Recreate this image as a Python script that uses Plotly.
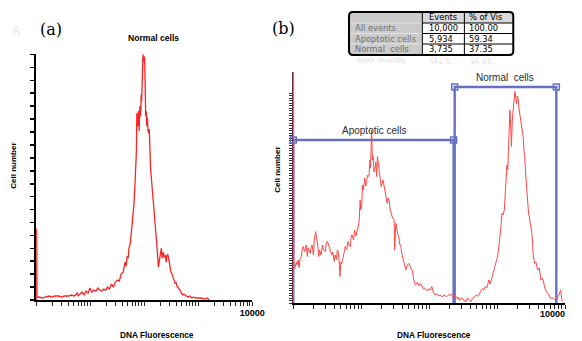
import plotly.graph_objects as go

W, H = 582, 341

# ---------------- data ----------------
# Panel (a): histogram, log channel (0..1023 over 4 decades) vs cell count
a_channel = [2, 2, 4, 14, 28, 42, 60, 74, 88, 107,
             120, 134, 153, 167, 181, 195, 199, 208, 218, 227,
             236, 246, 255, 264, 273, 283, 292, 301, 310, 320,
             329, 338, 347, 357, 366, 375, 385, 394, 403, 412,
             422, 426, 431, 436, 440, 445, 449, 454, 459, 463,
             468, 473, 475, 477, 481, 485, 488, 491, 495, 498,
             500, 504, 506, 510, 512, 514, 517, 519, 522, 524,
             527, 530, 533, 536, 537, 540, 542, 547, 551, 556,
             561, 565, 570, 574, 579, 584, 588, 593, 598, 602,
             607, 612, 616, 621, 625, 630, 635, 639, 644, 649,
             653, 658, 663, 667, 672, 676, 681, 686, 690, 695,
             700, 709, 718, 727, 737, 746, 755, 769, 783, 797,
             811, 820]
a_count = [0, 288, 12, 12, 8, 12, 16, 12, 16, 16,
           12, 16, 16, 20, 16, 28, 16, 24, 32, 20,
           36, 28, 48, 32, 40, 36, 48, 40, 36, 44,
           40, 52, 44, 64, 52, 72, 80, 76, 104, 112,
           152, 136, 176, 168, 212, 220, 256, 288, 328, 380,
           460, 540, 600, 752, 700, 760, 680, 780, 740, 828,
           800, 920, 988, 960, 980, 972, 840, 740, 760, 700,
           732, 680, 672, 688, 640, 580, 532, 480, 440, 412,
           340, 300, 252, 200, 132, 168, 192, 208, 168, 192,
           172, 180, 152, 184, 180, 148, 120, 112, 104, 92,
           80, 68, 72, 56, 52, 44, 40, 32, 28, 20,
           24, 16, 12, 16, 8, 12, 8, 8, 8, 4,
           8, 0]

# Panel (b)
b_channel = [1, 1, 2, 6, 11, 15, 18, 22, 26, 31,
             33, 37, 43, 49, 53, 55, 59, 64, 66, 71,
             76, 79, 84, 88, 92, 96, 99, 104, 107, 110,
             114, 120, 125, 129, 135, 140, 145, 149, 154, 158,
             162, 166, 169, 173, 176, 179, 182, 187, 192, 196,
             201, 206, 210, 215, 217, 221, 227, 231, 236, 239,
             243, 248, 252, 254, 258, 261, 264, 269, 273, 276,
             280, 285, 289, 291, 295, 298, 301, 304, 307, 311,
             314, 317, 322, 326, 330, 331, 338, 344, 348, 354,
             357, 362, 365, 368, 374, 380, 382, 385, 387, 393,
             398, 401, 405, 410, 415, 420, 424, 429, 436, 442,
             448, 454, 460, 468, 473, 479, 486, 492, 497, 505,
             510, 516, 522, 527, 534, 541, 549, 554, 560, 567,
             577, 582, 589, 596, 600, 604, 608, 614, 619, 622,
             626, 632, 638, 645, 651, 656, 663, 668, 675, 681,
             689, 694, 700, 705, 712, 718, 724, 729, 737, 742,
             749, 755, 761, 767, 770, 773, 777, 780, 783, 786,
             790, 795, 800, 803, 805, 808, 810, 813, 816, 819,
             822, 825, 829, 832, 835, 838, 841, 844, 847, 850,
             853, 856, 859, 862, 866, 869, 872, 875, 878, 882,
             886, 891, 895, 899, 904, 909, 914, 921, 927, 933,
             939, 946, 950, 958, 963, 970, 976, 982, 988, 994,
             1001, 1007, 1010, 1013]
b_count = [0, 462, 70, 69, 82, 76, 86, 71, 90, 93,
           106, 113, 103, 116, 93, 110, 106, 99, 110, 116,
           96, 126, 143, 133, 116, 93, 106, 96, 110, 116,
           106, 103, 122, 123, 113, 106, 96, 102, 83, 96,
           87, 106, 103, 82, 53, 82, 79, 89, 106, 113,
           106, 123, 116, 113, 130, 136, 126, 146, 134, 139,
           150, 163, 206, 186, 196, 236, 226, 250, 234, 243,
           256, 253, 286, 270, 346, 286, 293, 262, 266, 282,
           253, 293, 273, 256, 242, 233, 246, 226, 214, 199,
           210, 203, 186, 179, 170, 166, 106, 150, 159, 139,
           130, 118, 113, 96, 86, 74, 66, 76, 79, 70,
           66, 46, 36, 42, 34, 39, 32, 28, 29, 24,
           28, 26, 33, 22, 16, 18, 14, 16, 12, 16,
           13, 14, 18, 16, 12, 10, 16, 13, 8, 12,
           5, 10, 9, 4, 3, 10, 7, 2, 9, 12,
           16, 14, 16, 22, 29, 26, 33, 30, 46, 38,
           53, 62, 73, 86, 94, 106, 122, 139, 156, 179,
           176, 186, 226, 256, 276, 266, 299, 346, 386, 356,
           313, 366, 399, 406, 423, 410, 399, 414, 409, 390,
           379, 376, 366, 346, 333, 306, 293, 262, 233, 199,
           182, 166, 150, 139, 96, 79, 82, 66, 70, 46,
           50, 36, 26, 19, 16, 9, 10, 8, 6, 10,
           16, 26, 14, 3]

# gates: [low channel, high channel, level]
apoptotic_gate = [0, 604, 326]
normal_gate = [608, 991, 432]
gate_names = ["Apoptotic cells", "Normal  cells"]

table_header = ["", "Events", "% of Vis"]
table_rows = ["All events", "Apoptotic cells", "Normal  cells"]
table_events = ["10,000", "5,934", "3,735"]
table_pct = ["100.00", "59.34", "37.35"]

decades = [1, 10, 100, 1000]
digits = [1, 2, 3, 4, 5, 6, 7, 8, 9]
x_tick_vals = [d * k for d in decades for k in digits] + [10000]
x_end_label = "10000"
x_tick_text_a = [""] * 36 + [x_end_label]
x_tick_text_b = [""] * 37


def fluor(chs):
    return [10 ** (c / 256) for c in chs]


def P(x, y):
    return x / W, 1 - y / H


RED_A = "#ff2222"
RED_B = "#ff4646"
GATE = "#6670c2"

fig = go.Figure()
fig.add_trace(go.Scatter(x=fluor(a_channel), y=a_count, mode="lines",
                         line=dict(color=RED_A, width=1.3), xaxis="x", yaxis="y"))
for g in (apoptotic_gate, normal_gate):
    lo, hi, lv = g
    fig.add_trace(go.Scatter(x=fluor([lo, lo, hi, hi]), y=[0, lv, lv, 0], mode="lines",
                             line=dict(color=GATE, width=2.4), xaxis="x2", yaxis="y2"))
fig.add_trace(go.Scatter(x=fluor(b_channel), y=b_count, mode="lines",
                         line=dict(color=RED_B, width=1), xaxis="x2", yaxis="y2"))
for g in (apoptotic_gate, normal_gate):
    lo, hi, lv = g
    fig.add_trace(go.Scatter(x=fluor([lo, hi]), y=[lv, lv], mode="markers", cliponaxis=False,
                             marker=dict(symbol="square-open", size=6, color=GATE,
                                         line=dict(width=1.5, color=GATE)),
                             xaxis="x2", yaxis="y2"))

xcommon = dict(type="log", range=[0, 4], tickmode="array", tickvals=x_tick_vals,
               ticks="outside", ticklen=4, tickwidth=1, fixedrange=True,
               tickcolor="#222", showline=True, linecolor="black", linewidth=1.5,
               showgrid=False, zeroline=False,
               tickfont=dict(family="Liberation Sans", size=9, color="black", weight="bold"))

fig.update_layout(
    width=W, height=H, margin=dict(l=0, r=0, t=0, b=0), autosize=False,
    paper_bgcolor="white", plot_bgcolor="white", showlegend=False, dragmode=False,
    hovermode=False,
    xaxis=dict(domain=[37 / W, 258 / W], anchor="y", ticktext=x_tick_text_a, **xcommon),
    yaxis=dict(domain=[1 - 300 / H, 1 - 54 / H], anchor="x", range=[0, 990], fixedrange=True,
               tickmode="array", tickvals=list(range(0, 989, 52)), showticklabels=False,
               ticks="outside", ticklen=4, tickwidth=1.6, tickcolor="black",
               showline=True, linecolor="black", linewidth=2, layer="below traces",
               showgrid=False, zeroline=False),
    xaxis2=dict(domain=[300 / W, 578 / W], anchor="y2", ticktext=x_tick_text_b, **xcommon),
    yaxis2=dict(domain=[1 - 303 / H, 1 - 72 / H], anchor="x2", range=[0, 462], fixedrange=True,
                tickmode="array", tickvals=list(range(0, 423, 5)), showticklabels=False,
                ticks="outside", ticklen=3, tickwidth=1, tickcolor="#333",
                showline=True, linecolor="#6a2848", linewidth=1.5, layer="below traces",
                showgrid=False, zeroline=False),
)

ann = []


def add_text(x, y, text, size, color="black", family="Liberation Sans", bold=False,
             angle=0, xanchor="center"):
    px, py = P(x, y)
    ann.append(dict(x=px, y=py, xref="paper", yref="paper", text=text, showarrow=False,
                    xanchor=xanchor, yanchor="middle", textangle=angle,
                    font=dict(family=family, size=size, color=color,
                              weight="bold" if bold else "normal")))


add_text(17, 31, "A", 12, color="#ececec", bold=True)
add_text(52, 29, "(a)", 16, family="DejaVu Serif")
add_text(290, 28, "(b)", 16, family="DejaVu Serif")
add_text(157, 38, "Normal cells", 8.6, bold=True)
add_text(13, 166, "Cell number", 8, bold=True, angle=-90)
add_text(283, 170, "Cell number", 8, bold=True, angle=-90)
add_text(161, 335, "DNA Fluorescence", 8.3, bold=True)
add_text(444, 335, "DNA Fluorescence", 8.3, bold=True)
add_text(383, 130, gate_names[0], 10, color="#2a2a2a")
add_text(517, 77, gate_names[1], 10, color="#2a2a2a")
add_text(580, 314, x_end_label, 9, bold=True, xanchor="right")

# ---- statistics table ----
cx = [357, 432, 475, 525]
ry = [12, 23, 33.5, 44, 55]
shapes = []


def rect(x0, y0, x1, y1, fill, lw=0, lc="black"):
    a0, b0 = P(x0, y1)
    a1, b1 = P(x1, y0)
    shapes.append(dict(type="rect", xref="paper", yref="paper", x0=a0, y0=b0, x1=a1, y1=b1,
                       fillcolor=fill, line=dict(width=lw, color=lc), layer="above"))


def line(x0, y0, x1, y1, color="black", width=1):
    a0, b0 = P(x0, y0)
    a1, b1 = P(x1, y1)
    shapes.append(dict(type="line", xref="paper", yref="paper", x0=a0, y0=b0, x1=a1, y1=b1,
                       line=dict(color=color, width=width), layer="above"))


rect(cx[0], ry[0], cx[1], ry[-1], "#cbcbcb")
rect(cx[1], ry[0], cx[3], ry[1], "#d9d9d9")
rect(cx[1], ry[1], cx[3], ry[-1], "white")
for yy in ry[1:-1]:
    line(cx[0], yy, cx[1], yy, color="#e2e2e2", width=1)
    line(cx[1], yy, cx[3], yy, color="black", width=1)
for xx in cx[1:-1]:
    line(xx, ry[0], xx, ry[-1], color="black", width=1)


def pp(x, y):
    a, b = P(x, y)
    return f"{a:.5f},{b:.5f}"


x0, y0, x1, y1, r = cx[0], ry[0], cx[-1], ry[-1], 4
path = (f"M {pp(x0 + r, y0)} L {pp(x1 - r, y0)} Q {pp(x1, y0)} {pp(x1, y0 + r)} "
        f"L {pp(x1, y1 - r)} Q {pp(x1, y1)} {pp(x1 - r, y1)} L {pp(x0 + r, y1)} "
        f"Q {pp(x0, y1)} {pp(x0, y1 - r)} L {pp(x0, y0 + r)} Q {pp(x0, y0)} {pp(x0 + r, y0)} Z")
shapes.append(dict(type="path", xref="paper", yref="paper", path=path,
                   line=dict(color="black", width=2), layer="above"))

row_y = [(ry[i] + ry[i + 1]) / 2 for i in range(4)]
TF = 8.3
add_text(cx[1] + 5, row_y[0], table_header[1], TF, family="DejaVu Sans", xanchor="left")
add_text(cx[2] + 3, row_y[0], table_header[2], TF, family="DejaVu Sans", xanchor="left")
for i in range(3):
    add_text(cx[0] + 4, row_y[i + 1], table_rows[i], TF, family="DejaVu Sans",
             color="#707070", xanchor="left")
    add_text(cx[1] + 5, row_y[i + 1], table_events[i], TF, family="DejaVu Sans", xanchor="left")
    add_text(cx[2] + 3, row_y[i + 1], table_pct[i], TF, family="DejaVu Sans", xanchor="left")

# faint reflection of the last row
add_text(390, 61, table_rows[2], 7.5, family="DejaVu Sans", color="#dedede", angle=180)
add_text(450, 61, table_events[2], 7.5, family="DejaVu Sans", color="#dedede", angle=180)
add_text(492, 61, table_pct[2], 7.5, family="DejaVu Sans", color="#dedede", angle=180)

fig.update_layout(annotations=ann, shapes=shapes)
fig.write_html(
    "out.html",
    config={"displayModeBar": False, "staticPlot": True, "responsive": False},
    post_script=("document.documentElement.style.margin='0px';"
                 "document.documentElement.style.overflow='hidden';"
                 "document.body.style.margin='0px';"
                 "document.body.style.overflow='hidden';"),
)
